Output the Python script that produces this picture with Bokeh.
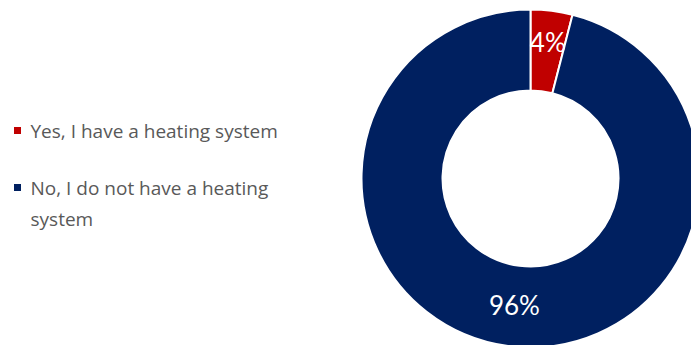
import numpy as np
from bokeh.plotting import figure
from bokeh.models import Range1d
from bokeh.core.properties import value
from bokeh.embed import file_html
from bokeh.resources import INLINE

categories = ["Yes, I have a heating system", "No, I do not have a heating\nsystem"]
values = [4, 96]
colors = ["#C00000", "#002060"]

W, H = 691, 345
p = figure(width=W, height=H, output_backend="svg", toolbar_location=None,
           x_range=Range1d(0, W), y_range=Range1d(0, H), min_border=0)
p.axis.visible = False
p.grid.visible = False
p.outline_line_color = None
p.background_fill_color = "white"

cx, cy = 530, H - 178
r_out, r_in = 169, 88

vals = np.array(values, dtype=float)
frac = vals / vals.sum()
cum_end = np.cumsum(frac)
cum_start = cum_end - frac
start = np.pi / 2 - cum_end * 2 * np.pi
end = np.pi / 2 - cum_start * 2 * np.pi

p.annular_wedge(x=cx, y=cy, inner_radius=r_in, outer_radius=r_out,
                start_angle=list(start), end_angle=list(end),
                fill_color=colors, line_color="white", line_width=2,
                direction="anticlock")

mid = (start + end) / 2
r_lab = [138, 128]
lx = [cx + r * np.cos(a) for r, a in zip(r_lab, mid)]
ly = [cy + r * np.sin(a) for r, a in zip(r_lab, mid)]
p.text(x=lx, y=ly, text=[f"{v:g}%" for v in values], text_color="white",
       text_font=value("Lato"), text_font_size="26px",
       text_align="center", text_baseline="middle")

# legend
leg_y = [H - 130 - i * 57 for i in range(len(categories))]
p.scatter(x=[17] * len(categories), y=leg_y, marker="square", size=7,
          fill_color=colors, line_color=None)
p.text(x=[30] * len(categories), y=[y + 13 for y in leg_y], text=categories,
       text_color="#595959", text_font=value("Open Sans"), text_font_size="19px",
       text_align="left", text_baseline="top", text_line_height=1.2)

open("out.html", "w").write(file_html(p, INLINE))
